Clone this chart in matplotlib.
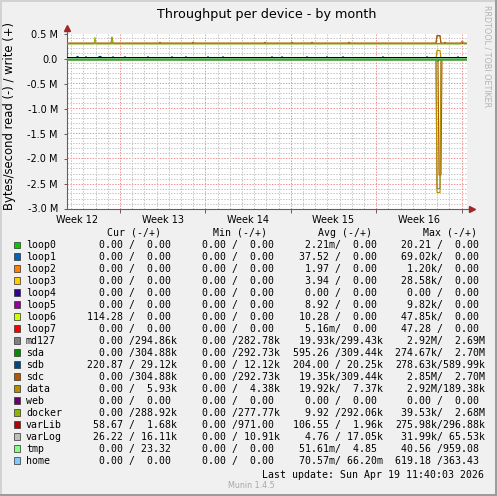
import numpy as np
import matplotlib
matplotlib.use("Agg")
import matplotlib.pyplot as plt
import matplotlib.transforms as mtransforms
from matplotlib.patches import Rectangle

W, H = 497, 496

devices = ['loop0', 'loop1', 'loop2', 'loop3', 'loop4', 'loop5', 'loop6', 'loop7',
           'md127', 'sda', 'sdb', 'sdc', 'data', 'web', 'docker', 'varLib',
           'varLog', 'tmp', 'home']
colors = ['#00CC00', '#0066B3', '#FF8000', '#FFCC00', '#330099', '#990099',
          '#CCFF00', '#FF0000', '#808080', '#008F00', '#00487D', '#B35A00',
          '#B38F00', '#6B006B', '#8FB300', '#B30000', '#BEBEBE', '#80FF80',
          '#80C9FF']

# legend values (read / write)
cur_r = ['0.00', '0.00', '0.00', '0.00', '0.00', '0.00', '114.28', '0.00', '0.00', '0.00',
         '220.87', '0.00', '0.00', '0.00', '0.00', '58.67', '26.22', '0.00', '0.00']
cur_w = ['0.00', '0.00', '0.00', '0.00', '0.00', '0.00', '0.00', '0.00', '294.86k', '304.88k',
         '29.12k', '304.88k', '5.93k', '0.00', '288.92k', '1.68k', '16.11k', '23.32', '0.00']
min_r = ['0.00'] * 19
min_w = ['0.00', '0.00', '0.00', '0.00', '0.00', '0.00', '0.00', '0.00', '282.78k', '292.73k',
         '12.12k', '292.73k', '4.38k', '0.00', '277.77k', '971.00', '10.91k', '0.00', '0.00']
avg_r = ['2.21m', '37.52', '1.97', '3.94', '0.00', '8.92', '10.28', '5.16m', '19.93k', '595.26',
         '204.00', '19.35k', '19.92k', '0.00', '9.92', '106.55', '4.76', '51.61m', '70.57m']
avg_w = ['0.00', '0.00', '0.00', '0.00', '0.00', '0.00', '0.00', '0.00', '299.43k', '309.44k',
         '20.25k', '309.44k', '7.37k', '0.00', '292.06k', '1.96k', '17.05k', '4.85', '66.20m']
max_r = ['20.21', '69.02k', '1.20k', '28.58k', '0.00', '9.82k', '47.85k', '47.28', '2.92M',
         '274.67k', '278.63k', '2.85M', '2.92M', '0.00', '39.53k', '275.98k', '31.99k',
         '40.56', '619.18']
max_w = ['0.00', '0.00', '0.00', '0.00', '0.00', '0.00', '0.00', '0.00', '2.69M', '2.70M',
         '589.99k', '2.70M', '189.38k', '0.00', '2.68M', '296.88k', '65.53k', '959.08', '363.43']

# graph samples: one every 2 hours over the month view, values in MB/s
N = 400
samples_per_day = 12.2
write_base = [0, 0, 0, 0, 0, 0, 0, 0, 0.299, 0.309, 0, 0.309, 0.007, 0, 0.292,
              0.002, 0.017, 0, 0]
# (sample index, value)
md127_write_spikes = [(370, 0.45), (371, 0.45), (372, 0.45), (373, 0.45)]
sdb_write_spikes = [(10, 0.04), (11, 0.04), (19, 0.04), (32, 0.04), (33, 0.04), (34, 0.04),
                    (46, 0.04), (58, 0.04), (81, 0.04), (105, 0.04), (119, 0.04), (141, 0.04),
                    (156, 0.04), (205, 0.04), (215, 0.04), (240, 0.04), (260, 0.04),
                    (276, 0.04), (316, 0.04), (360, 0.04), (391, 0.04)]
sdc_write_spikes = [(45, 0.43), (93, 0.325), (126, 0.325), (198, 0.325), (225, 0.325),
                    (245, 0.325), (282, 0.325), (370, 0.46), (371, 0.46), (372, 0.46),
                    (373, 0.46), (378, 0.325), (395, 0.345)]
data_write_spikes = [(370, 0.16), (371, 0.16), (372, 0.16), (373, 0.16)]
docker_write_spikes = [(28, 0.42), (45, 0.41), (395, 0.34), (396, 0.34)]
md127_read_spikes = [(370, 2.6), (371, 2.6), (372, 2.6), (373, 2.6)]
sda_read_spikes = [(371, 0.06)]
sdc_read_spikes = [(372, 2.33), (373, 2.33), (374, 2.33)]
data_read_spikes = [(370, 2.68), (371, 2.68), (372, 2.68), (373, 2.68)]
varlib_read_spikes = [(11, 0.025)]

write_spikes = {'md127': md127_write_spikes, 'sdb': sdb_write_spikes,
                'sdc': sdc_write_spikes, 'data': data_write_spikes,
                'docker': docker_write_spikes}
read_spikes = {'md127': md127_read_spikes, 'sda': sda_read_spikes,
               'sdc': sdc_read_spikes, 'data': data_read_spikes,
               'varLib': varlib_read_spikes}

week_labels = ['Week 12', 'Week 13', 'Week 14', 'Week 15', 'Week 16']
first_week_line = 4.34   # days from start of the view
ytick_vals = [0.5, 0.0, -0.5, -1.0, -1.5, -2.0, -2.5, -3.0]
ytick_text = ['0.5 M', '0.0', '-0.5 M', '-1.0 M', '-1.5 M', '-2.0 M', '-2.5 M', '-3.0 M']


def build(base, spikes):
    y = np.full(N, float(base))
    for i, v in spikes:
        y[i] = v
    return y * 1e6


def fmt(v):
    if v[-1].isalpha():
        return v[:-1].rjust(6) + v[-1]
    return v.rjust(6) + ' '


t = np.arange(N) / samples_per_day

fig = plt.figure(figsize=(W / 100, H / 100), dpi=100)
fig.patch.set_facecolor('#F0F0F0')

ax = fig.add_axes([67 / W, (H - 208.5) / H, 400 / W, 175 / H])
ax.set_facecolor('#FFFFFF')
ax.set_xlim(0, N / samples_per_day)
ax.set_ylim(-3.0e6, 0.5e6)

# grid
dot = (0, (1.4, 1.4))
for yv in np.arange(-3.0, 0.51, 0.1):
    major = abs(yv * 2 - round(yv * 2)) < 1e-6
    ax.axhline(yv * 1e6, color='#F09090' if major else '#C4C4C4', lw=0.72,
               ls=dot, zorder=1)
day = first_week_line - 4
while day < N / samples_per_day:
    major = abs(((day - first_week_line) / 7) - round((day - first_week_line) / 7)) < 1e-6
    ax.axvline(day, color='#F09090' if major else '#C4C4C4', lw=0.72, ls=dot, zorder=1)
    day += 1

# series
for name, col, wb in zip(devices, colors, write_base):
    rd = -build(0, read_spikes.get(name, []))
    wr = build(wb, write_spikes.get(name, []))
    z = 4 if name == 'loop0' else 3
    lw = 1.0 if name == 'loop0' else 0.8
    ax.plot(t, rd, color=col, lw=lw, zorder=z)
    ax.plot(t, wr, color=col, lw=lw, zorder=z)

# zero rule
shift = mtransforms.offset_copy(ax.transData, fig=fig, x=0, y=1.3, units='dots')
ax.plot([0, N / samples_per_day], [0, 0], color='black', lw=0.75, transform=shift, zorder=5)

for s in ['top', 'right']:
    ax.spines[s].set_visible(False)
for s in ['left', 'bottom']:
    ax.spines[s].set_color('#606060')
    ax.spines[s].set_linewidth(0.8)

ax.set_yticks([v * 1e6 for v in ytick_vals], ytick_text)
week_lines = [first_week_line + 7 * k for k in range(5)]
ax.set_xticks(week_lines, [''] * 5)
ax.set_xticks([w - 3.5 for w in week_lines], week_labels, minor=True)
ax.tick_params(axis='y', length=2, width=0.7, color='#606060', labelsize=7, pad=4.5)
ax.tick_params(axis='x', which='major', length=3, width=0.7, color='#606060')
ax.tick_params(axis='x', which='minor', length=0, labelsize=7, pad=4.5)

# axis arrows
ax.plot([0, 0], [1, 1.03], color='#606060', lw=0.8, transform=ax.transAxes, clip_on=False)
ax.plot([0], [1.03], marker='^', ms=5, color='#A02828', transform=ax.transAxes, clip_on=False)
ax.plot([1, 1.012], [0, 0], color='#606060', lw=0.8, transform=ax.transAxes, clip_on=False)
ax.plot([1.012], [0], marker='>', ms=5, color='#A02828', transform=ax.transAxes, clip_on=False)


def ftext(x, y, s, **kw):
    fig.text(x / W, 1 - y / H, s, **kw)


ftext(267, 18.3, 'Throughput per device - by month', fontsize=9.2, ha='center', va='baseline')
ftext(10, 116.5, 'Bytes/second read (-) / write (+)', fontsize=8.4, rotation=90,
      ha='center', va='center')
ftext(487, 5, 'RRDTOOL / TOBI OETIKER', fontsize=5.8, rotation=270, color='#B4B4B4',
      ha='center', va='top')

mono = 'DejaVu Sans Mono'
fs = 7.15
cols_x = [87, 190, 293, 395]
heads = [('Cur (-/+)', 107), ('Min (-/+)', 213), ('Avg (-/+)', 318), ('Max (-/+)', 423)]
for txt, hx in heads:
    ftext(hx, 235.7, txt, fontsize=fs, family=mono, va='baseline')

for i, name in enumerate(devices):
    yb = 248 + i * 11.98
    fig.add_artist(Rectangle((13.5 / W, 1 - yb / H), 6.5 / W, 6.5 / H,
                             transform=fig.transFigure, facecolor=colors[i],
                             edgecolor='#303030', lw=0.5))
    ftext(26, yb, name, fontsize=fs, family=mono, va='baseline')
    vals = [(cur_r, cur_w), (min_r, min_w), (avg_r, avg_w), (max_r, max_w)]
    for cx, (r, w) in zip(cols_x, vals):
        ftext(cx, yb, fmt(r[i]) + '/' + fmt(w[i]), fontsize=fs, family=mono, va='baseline')

ftext(261.5, 478, 'Last update: Sun Apr 19 11:40:03 2026', fontsize=fs, family=mono,
      va='baseline')
ftext(251, 488, 'Munin 1.4.5', fontsize=5.8, color='#A8A8A8', ha='center', va='baseline')

# image frame
for xy, w, h, c in [((0, 1 - 2 / H), 1, 2 / H, '#D2D2D2'), ((0, 0), 2 / W, 1, '#D2D2D2'),
                    ((0, 0), 1, 2 / H, '#9C9C9C'), ((1 - 2 / W, 0), 2 / W, 1, '#9C9C9C')]:
    fig.add_artist(Rectangle(xy, w, h, transform=fig.transFigure, color=c, lw=0))

fig.savefig('out.png', dpi=100, facecolor=fig.get_facecolor())
